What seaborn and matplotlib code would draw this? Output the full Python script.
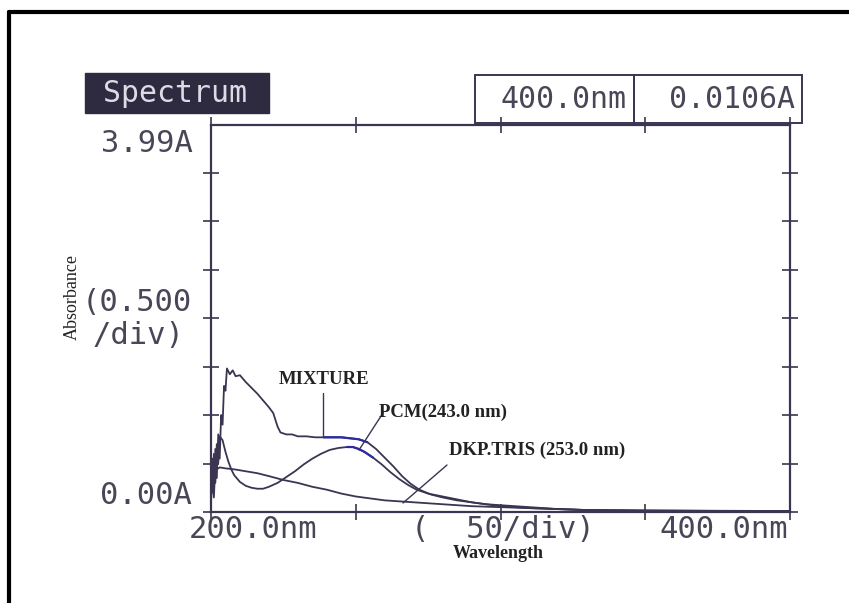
import pandas as pd
import matplotlib
matplotlib.use("Agg")
import matplotlib.pyplot as plt
from matplotlib.patches import Rectangle
from matplotlib.lines import Line2D
import seaborn as sns

mix_nm = [200.0, 200.5, 201.0, 201.5, 202.0, 202.5, 203.0, 203.5, 204.0, 204.5,
          205.0, 205.5, 206.5, 207.5, 208.5, 210.0, 212.0, 214.0, 216.0, 218.0,
          220.0, 221.5, 223.0, 224.0, 226.0, 228.0, 230.0, 233.0, 236.0, 239.0,
          242.0, 245.0, 248.0, 251.0, 254.0, 257.0, 260.0, 263.0, 266.0, 269.0,
          272.0, 276.0, 280.0, 285.0, 290.0, 295.0, 300.0, 310.0, 320.0, 330.0,
          350.0, 375.0, 400.0]
mix_abs = [0.30, 0.55, 0.20, 0.65, 0.35, 0.80, 0.55, 1.00, 0.90, 1.30,
           1.25, 1.48, 1.42, 1.46, 1.40, 1.41, 1.34, 1.28, 1.22, 1.15,
           1.08, 1.02, 0.88, 0.82, 0.80, 0.80, 0.78, 0.78, 0.77, 0.77,
           0.77, 0.77, 0.76, 0.75, 0.72, 0.65, 0.56, 0.47, 0.37, 0.29,
           0.23, 0.18, 0.15, 0.12, 0.10, 0.08, 0.07, 0.05, 0.03, 0.02,
           0.015, 0.012, 0.0106]

pcm_nm = [200.0, 200.5, 201.0, 201.5, 202.0, 202.5, 203.0, 204.0, 205.0, 206.0,
          207.0, 208.0, 210.0, 212.0, 214.0, 216.0, 218.0, 220.0, 223.0, 226.0,
          229.0, 232.0, 235.0, 238.0, 241.0, 244.0, 247.0, 249.0, 251.0, 253.0,
          256.0, 259.0, 262.0, 265.0, 268.0, 271.0, 275.0, 280.0, 285.0, 290.0,
          295.0, 300.0, 310.0, 320.0, 330.0, 350.0, 375.0, 400.0]
pcm_abs = [0.45, 0.20, 0.60, 0.30, 0.70, 0.50, 0.78, 0.74, 0.62, 0.52,
           0.44, 0.38, 0.31, 0.27, 0.25, 0.24, 0.24, 0.26, 0.30, 0.36,
           0.42, 0.49, 0.55, 0.60, 0.64, 0.66, 0.67, 0.67, 0.65, 0.62,
           0.56, 0.49, 0.41, 0.34, 0.28, 0.23, 0.19, 0.16, 0.13, 0.10,
           0.08, 0.06, 0.04, 0.03, 0.02, 0.013, 0.011, 0.0106]

dkp_nm = [200.0, 200.5, 201.0, 201.5, 202.0, 203.0, 205.0, 208.0, 212.0, 216.0,
          220.0, 225.0, 230.0, 235.0, 240.0, 245.0, 250.0, 255.0, 260.0, 265.0,
          270.0, 275.0, 280.0, 290.0, 300.0, 310.0, 320.0, 330.0, 350.0, 375.0,
          400.0]
dkp_abs = [0.10, 0.40, 0.15, 0.50, 0.44, 0.46, 0.45, 0.44, 0.42, 0.40,
           0.37, 0.33, 0.30, 0.26, 0.23, 0.19, 0.16, 0.14, 0.12, 0.11,
           0.10, 0.09, 0.08, 0.06, 0.05, 0.04, 0.03, 0.02, 0.015, 0.012,
           0.0106]

x_ticks = [200, 250, 300, 350, 400]
y_ticks = [0.0, 0.5, 1.0, 1.5, 2.0, 2.5, 3.0, 3.5]

W, H = 849, 603
LINE = "#3b3552"
LCD = "#4a4658"


def fx(x):
    return x / W


def fy(y):
    return 1 - y / H


sns.set_theme(style="white")
plt.rcParams["font.family"] = ["DejaVu Sans"]

df = pd.concat([
    pd.DataFrame({"nm": mix_nm, "A": mix_abs, "s": "MIXTURE"}),
    pd.DataFrame({"nm": pcm_nm, "A": pcm_abs, "s": "PCM"}),
    pd.DataFrame({"nm": dkp_nm, "A": dkp_abs, "s": "DKP"}),
])

fig = plt.figure(figsize=(W / 100, H / 100), dpi=100)
fig.patch.set_facecolor("white")
ax = fig.add_axes([fx(211), fy(512), fx(790) - fx(211), fy(125) - fy(512)])

sns.lineplot(data=df, x="nm", y="A", units="s", estimator=None, sort=False,
             color=LINE, lw=1.3, ax=ax, legend=False)

# blue highlighted stretches near the peak
hl = pd.concat([
    df[(df.s == "MIXTURE") & (df.nm >= 239) & (df.nm <= 254)],
    df[(df.s == "PCM") & (df.nm >= 247) & (df.nm <= 256)],
])
sns.lineplot(data=hl, x="nm", y="A", units="s", estimator=None, sort=False,
             color="#2b2ba8", lw=1.6, ax=ax, legend=False)

ax.set_xlim(200, 400)
ax.set_ylim(0, 3.99)
ax.set_xticks(x_ticks)
ax.set_yticks(y_ticks)
ax.set_xticklabels([])
ax.set_yticklabels([])
ax.set_xlabel("")
ax.set_ylabel("")
ax.tick_params(direction="inout", length=12, width=1.2, color=LINE,
               top=True, right=True, bottom=True, left=True)
for sp in ax.spines.values():
    sp.set_color(LINE)
    sp.set_linewidth(1.6)
ax.patch.set_alpha(0)

# outer frame
fig.add_artist(Line2D([fx(9), 1], [fy(12), fy(12)], color="black", lw=3))
fig.add_artist(Line2D([fx(9), fx(9)], [fy(12), 0], color="black", lw=3))

# header boxes
fig.add_artist(Rectangle((fx(85), fy(113)), fx(269) - fx(85), fy(73) - fy(113),
                         transform=fig.transFigure, facecolor="#2e2a40",
                         edgecolor="#2e2a40"))
fig.text(fx(175), fy(93), "Spectrum", color="#dcdce6", family="DejaVu Sans Mono",
         fontsize=21.5, ha="center", va="center")
for x0, x1, s in [(475, 634, "400.0nm"), (634, 802, "0.0106A")]:
    fig.add_artist(Rectangle((fx(x0), fy(123)), fx(x1) - fx(x0), fy(75) - fy(123),
                             transform=fig.transFigure, facecolor="none",
                             edgecolor=LINE, lw=1.4))
    fig.text(fx(x1 - 7), fy(99), s, color=LCD, family="DejaVu Sans Mono",
             fontsize=21.5, ha="right", va="center")

# LCD-style axis texts
mono = dict(color=LCD, family="DejaVu Sans Mono", fontsize=22)
fig.text(fx(193), fy(143), "3.99A", ha="right", va="center", **mono)
fig.text(fx(192), fy(302), "(0.500", ha="right", va="center", **mono)
fig.text(fx(184), fy(335), "/div)", ha="right", va="center", **mono)
fig.text(fx(192), fy(495), "0.00A", ha="right", va="center", **mono)
fig.text(fx(189), fy(530), "200.0nm", ha="left", va="center", **mono)
fig.text(fx(411), fy(530), "(  50/div)", ha="left", va="center", **mono)
fig.text(fx(788), fy(530), "400.0nm", ha="right", va="center", **mono)

serif = ["Liberation Serif", "DejaVu Serif"]
fig.text(fx(72), fy(297), "Absorbance", rotation=90, ha="center", va="center",
         family=serif, fontsize=13, color="#222222")
fig.text(fx(498), fy(553), "Wavelength", ha="center", va="center",
         family=serif, fontsize=13, fontweight="bold", color="#222222")

# curve annotations
lab = dict(family=serif, fontsize=13.5, fontweight="bold", color="#222222",
           ha="left", va="center")
fig.text(fx(279), fy(379), "MIXTURE", **lab)
fig.text(fx(379), fy(412), "PCM(243.0 nm)", **lab)
fig.text(fx(449), fy(450), "DKP.TRIS (253.0 nm)", **lab)
for (x0, y0), (x1, y1) in [((323, 393), (323, 437)),
                           ((383, 413), (359, 450)),
                           ((447, 465), (403, 503))]:
    fig.add_artist(Line2D([fx(x0), fx(x1)], [fy(y0), fy(y1)], color=LINE, lw=1))

fig.savefig("out.png", dpi=100)
